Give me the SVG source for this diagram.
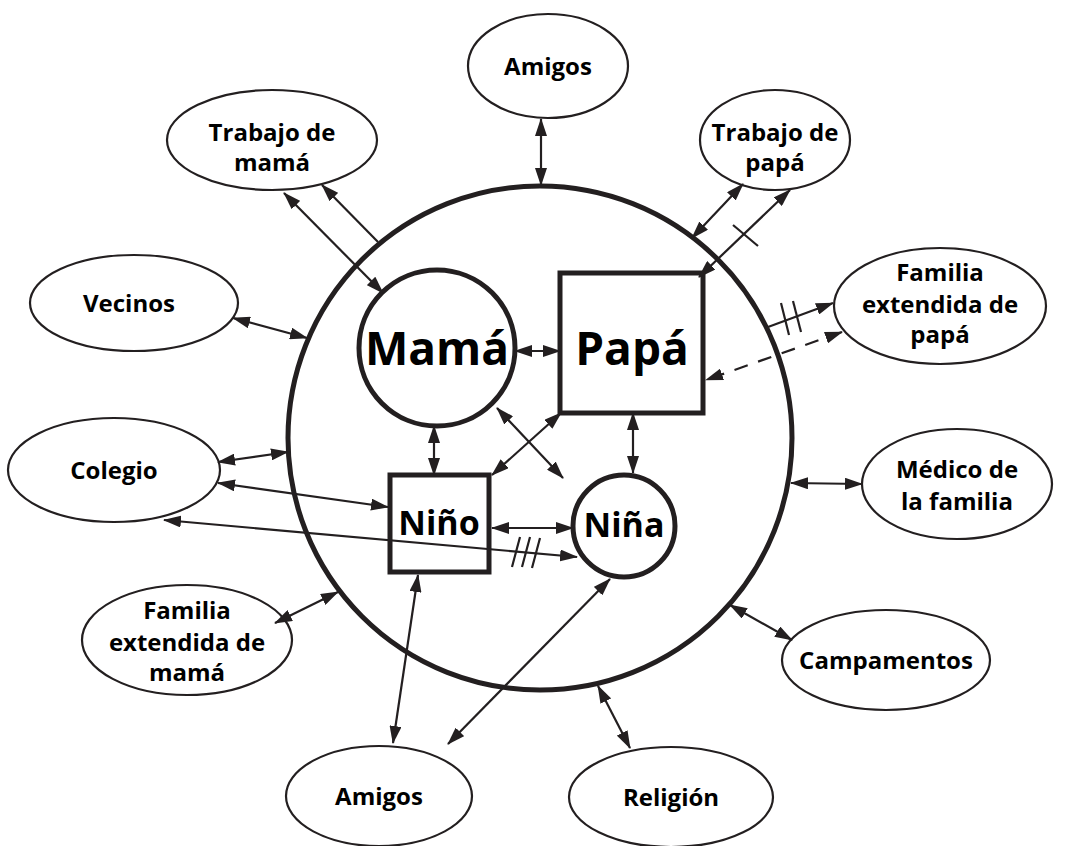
<svg xmlns="http://www.w3.org/2000/svg" width="1069" height="846" viewBox="0 0 1069 846">
<defs>
<style>
.el{fill:#fff;stroke:#231f20;stroke-width:2.2}
.big{fill:none;stroke:#231f20;stroke-width:5}
.nd{fill:none;stroke:#231f20;stroke-width:5}
.t{font-family:"Open Sans","Liberation Sans",sans-serif;font-weight:700;font-size:24px;fill:#000;text-anchor:middle}
.tb{font-family:"Open Sans","Liberation Sans",sans-serif;font-weight:700;font-size:46px;fill:#000;text-anchor:middle}
.tm{font-family:"Open Sans","Liberation Sans",sans-serif;font-weight:700;font-size:34px;fill:#000;text-anchor:middle}
.cd{stroke:#231f20;stroke-width:2.2;fill:none;marker-start:url(#a);marker-end:url(#a)}
.ce{stroke:#231f20;stroke-width:2.2;fill:none;marker-end:url(#a)}
.tk{stroke:#231f20;stroke-width:2.2;fill:none}
</style>
<marker id="a" viewBox="0 0 18 12" refX="17" refY="6" markerWidth="18" markerHeight="12" markerUnits="userSpaceOnUse" orient="auto-start-reverse">
<path d="M0,0 L18,6 L0,12 z" fill="#231f20"/>
</marker>
</defs>
<rect width="1069" height="846" fill="#fff"/>

<g id="family-circle"><circle class="big" cx="540" cy="438" r="252"/></g>

<g id="mama"><circle class="nd" cx="437" cy="348" r="78"/><text class="tb" x="437" y="365">Mamá</text></g>
<g id="papa"><rect class="nd" x="560" y="273" width="143" height="140"/><text class="tb" x="632" y="365">Papá</text></g>
<g id="nino"><rect class="nd" x="390" y="475" width="99" height="97"/><text class="tm" x="439" y="535">Niño</text></g>
<g id="nina"><circle class="nd" cx="624" cy="526" r="51"/><text class="tm" x="624" y="537">Niña</text></g>

<g id="amigos-top"><ellipse class="el" cx="548" cy="66" rx="80" ry="52"/><text class="t" x="548" y="75">Amigos</text></g>
<g id="trabajo-mama"><ellipse class="el" cx="272" cy="140" rx="105" ry="50"/><text class="t" x="272" y="141">Trabajo de</text><text class="t" x="272" y="171">mamá</text></g>
<g id="trabajo-papa"><ellipse class="el" cx="775" cy="140" rx="75" ry="50"/><text class="t" x="775" y="141">Trabajo de</text><text class="t" x="775" y="171">papá</text></g>
<g id="vecinos"><ellipse class="el" cx="134" cy="303" rx="104" ry="48"/><text class="t" x="129" y="312">Vecinos</text></g>
<g id="familia-papa"><ellipse class="el" cx="940" cy="306" rx="106" ry="58"/><text class="t" x="940" y="281">Familia</text><text class="t" x="940" y="313">extendida de</text><text class="t" x="940" y="343">papá</text></g>
<g id="colegio"><ellipse class="el" cx="114" cy="470" rx="106" ry="52"/><text class="t" x="114" y="479">Colegio</text></g>
<g id="medico"><ellipse class="el" cx="957" cy="484" rx="95" ry="55"/><text class="t" x="957" y="478">Médico de</text><text class="t" x="957" y="510">la familia</text></g>
<g id="familia-mama"><ellipse class="el" cx="187" cy="640" rx="105" ry="55"/><text class="t" x="187" y="619">Familia</text><text class="t" x="187" y="651">extendida de</text><text class="t" x="187" y="681">mamá</text></g>
<g id="campamentos"><ellipse class="el" cx="886" cy="660" rx="104" ry="50"/><text class="t" x="886" y="669">Campamentos</text></g>
<g id="amigos-bottom"><ellipse class="el" cx="379" cy="796" rx="93" ry="50"/><text class="t" x="379" y="805">Amigos</text></g>
<g id="religion"><ellipse class="el" cx="671" cy="797" rx="102" ry="50"/><text class="t" x="671" y="806">Religión</text></g>

<g id="connectors">
<line class="cd" x1="541" y1="119" x2="541" y2="185"/>
<line class="cd" x1="284" y1="193" x2="383" y2="293"/>
<line class="ce" x1="378" y1="242" x2="322" y2="185"/>
<line class="cd" x1="692" y1="238" x2="743" y2="184"/>
<line class="cd" x1="699" y1="277" x2="790" y2="190"/>
<line class="tk" x1="733" y1="225" x2="758" y2="246"/>
<line class="ce" x1="768" y1="327" x2="833" y2="303"/>
<line class="tk" x1="781" y1="303" x2="789" y2="335"/>
<line class="tk" x1="793" y1="301" x2="801" y2="332"/>
<line class="cd" x1="842" y1="332" x2="706" y2="380" stroke-dasharray="14 11"/>
<line class="cd" x1="233" y1="318" x2="307" y2="338"/>
<line class="cd" x1="515" y1="351" x2="560" y2="351"/>
<line class="cd" x1="434" y1="426" x2="434" y2="475"/>
<line class="cd" x1="633" y1="413" x2="633" y2="473"/>
<line class="cd" x1="561" y1="413" x2="492" y2="475"/>
<line class="cd" x1="497" y1="408" x2="563" y2="478"/>
<line class="cd" x1="492" y1="528" x2="573" y2="528"/>
<line class="cd" x1="218" y1="462" x2="288" y2="452"/>
<line class="cd" x1="218" y1="483" x2="388" y2="507"/>
<line class="cd" x1="164" y1="520" x2="577" y2="557"/>
<line class="tk" x1="520" y1="537" x2="512" y2="567"/>
<line class="tk" x1="530" y1="537" x2="522" y2="567"/>
<line class="tk" x1="540" y1="538" x2="532" y2="568"/>
<line class="cd" x1="275" y1="623" x2="338" y2="592"/>
<line class="cd" x1="393" y1="743" x2="418" y2="575"/>
<line class="cd" x1="448" y1="744" x2="610" y2="579"/>
<line class="cd" x1="598" y1="686" x2="630" y2="748"/>
<line class="cd" x1="730" y1="605" x2="792" y2="640"/>
<line class="cd" x1="791" y1="483" x2="862" y2="484"/>
</g>
</svg>
